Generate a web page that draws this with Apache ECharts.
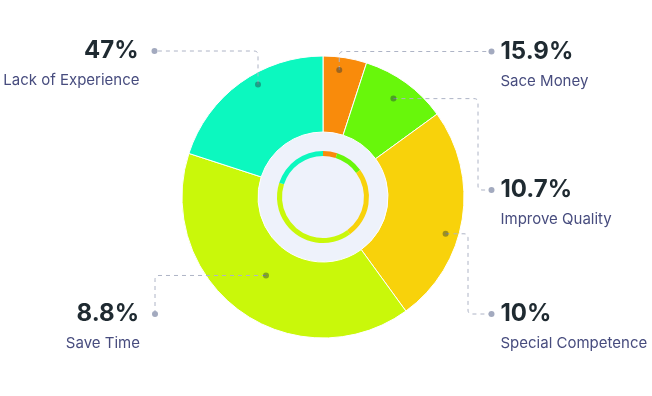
<!DOCTYPE html>
<html>
<head>
<meta charset="utf-8">
<script src="https://cdn.jsdelivr.net/npm/echarts@6/dist/echarts.min.js"></script>
<style>
html,body{margin:0;padding:0;background:#fff;}
#chart{width:652px;height:396px;}
</style>
</head>
<body>
<div id="chart"></div>
<script>
// ---- data ----
const categories = ['Sace Money', 'Improve Quality', 'Special Competence', 'Save Time', 'Lack of Experience'];
const sliceValues = [5, 10, 25, 40, 20];
const labelValues = ['15.9%', '10.7%', '10%', '8.8%', '47%'];
const sliceColors = ['#f98b0b', '#68f70b', '#f8d20b', '#c9f80a', '#0cf8bf'];

// ---- layout (annotation routing, not data) ----
const CX = 323, CY = 197;
const R_OUT = 141, R_IN = 65, RING_OUT = 46, RING_IN = 41;
const annot = [
  { da: -1.7, r: 128, route: 'vh',  endX: 491.5, endY: 51.5, side: 'right' },
  { da: -0.4, r: 121, route: 'hvh', elbowX: 478, endX: 491.5, endY: 190, side: 'right' },
  { da: 7.7,  r: 128, route: 'hvh', elbowX: 468, endX: 491.5, endY: 314, side: 'right' },
  { da: 0,    r: 97,  route: 'hv',  endX: 155, endY: 314, side: 'left' },
  { da: 6,    r: 130, route: 'vh',  endX: 154.5, endY: 51, side: 'left' }
];

const total = sliceValues.reduce((a, b) => a + b, 0);
const midAngles = [];
(function () {
  let acc = 0;
  sliceValues.forEach(v => {
    const a0 = acc / total * 360;
    acc += v;
    const a1 = acc / total * 360;
    midAngles.push((a0 + a1) / 2);
  });
})();

function roundPts(pts, rad) {
  if (pts.length < 3) return pts;
  const out = [pts[0]];
  for (let i = 1; i < pts.length - 1; i++) {
    const p0 = pts[i - 1], p1 = pts[i], p2 = pts[i + 1];
    const d1x = p1[0] - p0[0], d1y = p1[1] - p0[1];
    const d2x = p2[0] - p1[0], d2y = p2[1] - p1[1];
    const l1 = Math.hypot(d1x, d1y) || 1, l2 = Math.hypot(d2x, d2y) || 1;
    const rr = Math.min(rad, l1 / 2, l2 / 2);
    const a = [p1[0] - d1x / l1 * rr, p1[1] - d1y / l1 * rr];
    const b = [p1[0] + d2x / l2 * rr, p1[1] + d2y / l2 * rr];
    const n = 6;
    for (let k = 0; k <= n; k++) {
      const t = k / n;
      const x = (1 - t) * (1 - t) * a[0] + 2 * (1 - t) * t * p1[0] + t * t * b[0];
      const y = (1 - t) * (1 - t) * a[1] + 2 * (1 - t) * t * p1[1] + t * t * b[1];
      out.push([x, y]);
    }
  }
  out.push(pts[pts.length - 1]);
  return out;
}

const chart = echarts.init(document.getElementById('chart'));

const option = {
  animation: false,
  backgroundColor: '#ffffff',
  series: [
    {
      type: 'pie', silent: true, z: 1,
      center: [CX, CY], radius: [0, R_IN],
      label: { show: false }, labelLine: { show: false },
      emphasis: { disabled: true },
      data: [{ value: 1, itemStyle: { color: '#eef2fb' } }]
    },
    {
      type: 'pie', z: 2,
      center: [CX, CY], radius: [R_IN, R_OUT],
      startAngle: 90, clockwise: true,
      label: { show: false }, labelLine: { show: false },
      emphasis: { disabled: true },
      itemStyle: { borderColor: '#ffffff', borderWidth: 1 },
      data: categories.map((c, i) => ({ name: c, value: sliceValues[i], itemStyle: { color: sliceColors[i] } }))
    },
    {
      type: 'pie', z: 3,
      center: [CX, CY], radius: [RING_IN, RING_OUT],
      startAngle: 90, clockwise: true,
      label: { show: false }, labelLine: { show: false },
      emphasis: { disabled: true },
      data: categories.map((c, i) => ({ name: c, value: sliceValues[i], itemStyle: { color: sliceColors[i] } }))
    },
    {
      type: 'custom', coordinateSystem: 'none', z: 10, silent: true,
      data: categories.map((c, i) => [i]),
      renderItem: function (params, api) {
        const i = params.dataIndex;
        const L = annot[i];
        const ang = (midAngles[i] + L.da) * Math.PI / 180;
        const ax = CX + L.r * Math.sin(ang);
        const ay = CY - L.r * Math.cos(ang);
        let pts;
        if (L.route === 'vh') {
          pts = [[ax, ay], [ax, L.endY], [L.endX, L.endY]];
        } else if (L.route === 'hvh') {
          pts = [[ax, ay], [L.elbowX, ay], [L.elbowX, L.endY], [L.endX, L.endY]];
        } else {
          pts = [[ax, ay], [L.endX, ay], [L.endX, L.endY]];
        }
        const right = L.side === 'right';
        const tx = right ? L.endX + 9 : L.endX - 16;
        return {
          type: 'group',
          children: [
            {
              type: 'polyline',
              shape: { points: roundPts(pts, 4) },
              style: { stroke: '#aeb4c6', lineWidth: 1, lineDash: [4, 4], fill: null }
            },
            {
              type: 'circle', shape: { cx: ax, cy: ay, r: 3 },
              style: { fill: 'rgba(30,50,60,0.42)' }
            },
            {
              type: 'circle', shape: { cx: L.endX, cy: L.endY, r: 3 },
              style: { fill: '#a3aabf' }
            },
            {
              type: 'text',
              style: {
                x: tx, y: L.endY, text: labelValues[i],
                align: right ? 'left' : 'right', verticalAlign: 'middle',
                font: 'bold 24px Inter', fill: '#1f2a31'
              }
            },
            {
              type: 'text',
              style: {
                x: right ? tx : tx + 1, y: L.endY + 29.5, text: categories[i],
                align: right ? 'left' : 'right', verticalAlign: 'middle',
                font: '15px Inter', fill: '#474c7e'
              }
            }
          ]
        };
      }
    }
  ]
};
chart.setOption(option);
</script>
</body>
</html>
